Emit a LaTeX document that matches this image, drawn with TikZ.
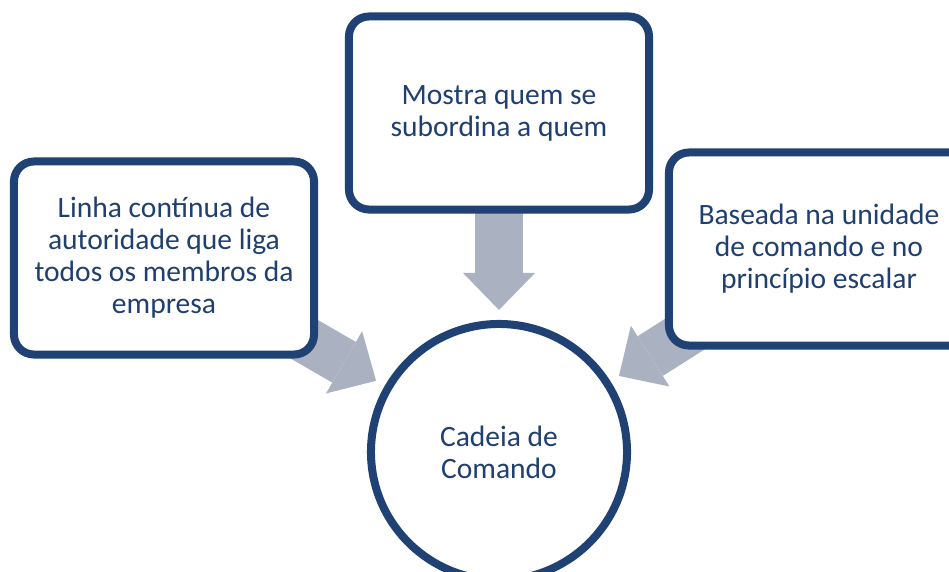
\documentclass[tikz,border=0pt]{standalone}
\usepackage{fontspec}
\setmainfont{Carlito}
\usetikzlibrary{arrows.meta,backgrounds}
\definecolor{framecol}{HTML}{1F4173}
\definecolor{textcol}{HTML}{1F3F70}
\definecolor{arrowcol}{HTML}{AAB1C0}
\tikzset{
  infobox/.style={draw=framecol,line width=0.2cm,rounded corners=0.5cm,fill=white,
    minimum width=7.5cm,minimum height=4.825cm,align=center,text=textcol,
    font=\fontsize{21}{22.8}\selectfont},
  hub/.style={draw=framecol,line width=0.2cm,circle,fill=white,minimum size=6.4cm,
    align=center,text=textcol,font=\fontsize{21}{22.8}\selectfont},
  blockarrow/.style={draw=arrowcol,line width=1.175cm,
    -{Triangle[length=0.925cm,width=1.8cm,line width=0pt]},shorten >=0.25cm}
}
\begin{document}
\begin{tikzpicture}[x=0.025cm,y=-0.025cm]
    \useasboundingbox (0,0) rectangle (949,572);
    \clip (0,0) rectangle (949,572);
    \node[hub] (cmd) at (499,452) {Cadeia de\\Comando};
    \node[infobox] (left) at (164,258) {Linha contínua de\\autoridade que liga\\todos os membros da\\empresa};
    \node[infobox] (top) at (499,113) {Mostra quem se\\subordina a quem};
    \node[infobox] (right) at (819,249) {Baseada na unidade\\de comando e no\\princípio escalar};
    \begin{scope}[on background layer]
      \draw[blockarrow] (left.center) -- (cmd);
      \draw[blockarrow] (top.center) -- (cmd);
      \draw[blockarrow] (right.center) -- (cmd);
    \end{scope}
\end{tikzpicture}
\end{document}
